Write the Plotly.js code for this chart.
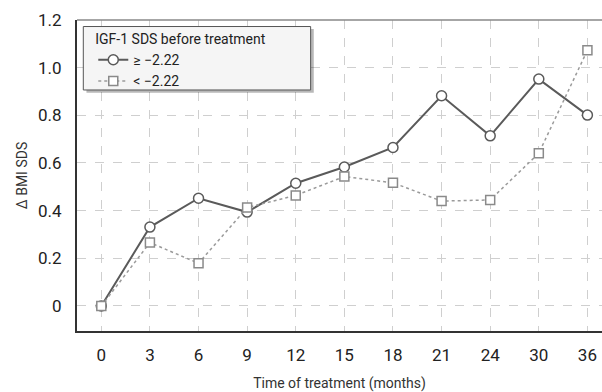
<!DOCTYPE html>
<html>
<head>
<meta charset="utf-8">
<script src="https://cdn.plot.ly/plotly-3.0.1.min.js"></script>
<style>html,body{margin:0;padding:0;background:#fff;}#chart{width:602px;height:392px;}</style>
</head>
<body>
<div id="chart"></div>
<script>
const months = ['0','3','6','9','12','15','18','21','24','30','36'];
const highIGF = [0, 0.331, 0.452, 0.394, 0.515, 0.583, 0.665, 0.882, 0.714, 0.952, 0.801];
const lowIGF = [0, 0.266, 0.179, 0.413, 0.464, 0.543, 0.517, 0.44, 0.445, 0.641, 1.073];
const yTickVals = [0, 0.2, 0.4, 0.6, 0.8, 1.0, 1.2];
const yTickText = ['0', '0.2', '0.4', '0.6', '0.8', '1.0', '1.2'];
const legendTitle = 'IGF-1 SDS before treatment';
const nameHigh = '\u2265 \u22122.22';
const nameLow = '< \u22122.22';

const FONT = 'Roboto, "DejaVu Sans Condensed", sans-serif';

const traces = [
  {
    x: months, y: highIGF, name: nameHigh, type: 'scatter', mode: 'lines+markers',
    line: {color: '#5a5a5a', width: 2},
    marker: {symbol: 'circle', size: 10, color: '#ffffff', line: {color: '#5a5a5a', width: 1.5}},
    cliponaxis: false
  },
  {
    x: months, y: lowIGF, name: nameLow, type: 'scatter', mode: 'lines+markers',
    line: {color: '#9a9a9a', width: 1.5, dash: 'dot'},
    marker: {symbol: 'square', size: 9, color: '#ffffff', line: {color: '#8a8a8a', width: 1.5}},
    cliponaxis: false
  }
];

const layout = {
  width: 602, height: 392,
  margin: {l: 77, r: 0, t: 20, b: 61},
  paper_bgcolor: '#ffffff', plot_bgcolor: '#ffffff',
  font: {family: FONT, size: 17, color: '#222'},
  showlegend: true,
  xaxis: {
    type: 'category', range: [-0.5, 10.3],
    showgrid: true, gridcolor: '#cfcfcf', griddash: 'dash', gridwidth: 1,
    showline: true, linecolor: '#333', linewidth: 2,
    ticks: '', ticklabelstandoff: 8,
    tickfont: {family: FONT, size: 17, color: '#222'},
    zeroline: false,
    title: {text: 'Time of treatment (months)', font: {family: FONT, size: 14, color: '#333'}, standoff: 16}
  },
  yaxis: {
    range: [-0.105, 1.2],
    tickvals: yTickVals, ticktext: yTickText,
    showgrid: true, gridcolor: '#cfcfcf', griddash: 'dash', gridwidth: 1,
    showline: true, linecolor: '#333', linewidth: 2,
    ticks: '', ticklabelstandoff: 10,
    tickfont: {family: FONT, size: 17, color: '#222'},
    zeroline: false,
    title: {text: '\u0394 BMI SDS', font: {family: FONT, size: 14, color: '#333'}, standoff: 7}
  },
  legend: {
    x: 0.031, y: 0.981, xanchor: 'left', yanchor: 'top',
    bgcolor: 'rgba(0,0,0,0)', borderwidth: 0,
    title: {text: legendTitle, font: {family: FONT, size: 14, color: '#222'}},
    font: {family: FONT, size: 14, color: '#222'},
    itemwidth: 30, tracegroupgap: 0
  },
  shapes: [
    {type: 'line', xref: 'paper', yref: 'paper', x0: 0, x1: 1, y0: 1, y1: 1, line: {color: '#888', width: 1.5}, layer: 'above'},
    {type: 'rect', xref: 'paper', yref: 'paper', x0: 0.018, x1: 0.451, y0: 0.766, y1: 0.971, line: {width: 0}, fillcolor: 'rgba(0,0,0,0.28)', layer: 'above'},
    {type: 'rect', xref: 'paper', yref: 'paper', x0: 0.012, x1: 0.445, y0: 0.775, y1: 0.979, line: {color: '#555', width: 1}, fillcolor: '#f5f5f5', layer: 'above'}
  ]
};

Plotly.newPlot('chart', traces, layout, {displayModeBar: false, staticPlot: true});
</script>
</body>
</html>
